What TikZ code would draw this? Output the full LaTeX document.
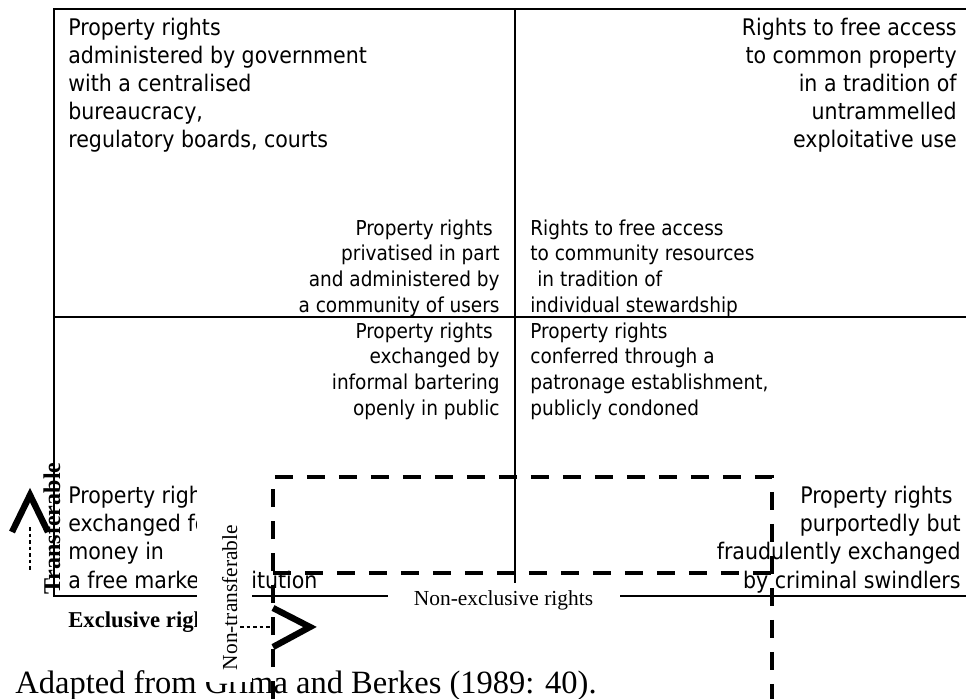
\documentclass[tikz,border=0pt]{standalone}
\usepackage{fontspec}
\setmainfont{Liberation Serif}
\newfontfamily\cellfont{DejaVu Sans Condensed}

\begin{document}
\begin{tikzpicture}[x=0.02cm, y=-0.02cm,
        big/.style={inner sep=0pt, font=\cellfont\fontsize{13}{16.05}\selectfont},
        small/.style={inner sep=0pt, font=\cellfont\fontsize{11.7}{14.6}\selectfont},
        axislabel/.style={inner sep=0pt, font=\fontsize{12.2}{14}\selectfont},
        gridline/.style={line width=1.2pt},
        zone/.style={line width=1.9pt, dash pattern=on 0.36cm off 0.28cm},
        chevron/.style={line width=3.6pt, miter limit=10},
        guide/.style={line width=0.8pt, dash pattern=on 2pt off 1.7pt}]
        \useasboundingbox (0,0) rectangle (966,699);

        % Define grid corners
        \coordinate (nw) at (54,9);
        \coordinate (ne) at (966,9);
        \coordinate (sw) at (54,596);
        \coordinate (top) at (515,9);
        \coordinate (mid) at (515,583);
        \coordinate (wl) at (54,317);
        \coordinate (el) at (966,317);

        % Draw Grid
        \draw[gridline] (ne) -- (nw) -- (sw) -- (388,596);
        \draw[gridline] (620,596) -- (966,596);
        \draw[gridline] (top) -- (mid);
        \draw[gridline] (wl) -- (el);

        % Quadrant texts (anchored on their last line)
        \node (gov) [big, anchor=base west, align=left] at (68,148)
            {Property rights\\administered by government\\with a centralised\\bureaucracy,\\regulatory boards, courts};
        \node (open) [big, anchor=base east, align=right] at (957,148)
            {Rights to free access\\to common property\\in a tradition of\hspace*{0.2cm}\\untrammelled\\exploitative use};
        \node (comm) [small, anchor=base east, align=right] at (500,312)
            {Property rights\hspace*{0.14cm}\\privatised in part\\and administered by\\a community of users};
        \node (steward) [small, anchor=base west, align=left] at (530,312)
            {Rights to free access\\to community resources\\\hspace*{0.14cm}in tradition of\\individual stewardship};
        \node (barter) [small, anchor=base east, align=right] at (500,415)
            {Property rights\hspace*{0.14cm}\\exchanged by\hspace*{0.14cm}\\informal bartering\\openly in public};
        \node (patron) [small, anchor=base west, align=left] at (530,415)
            {Property rights\\conferred through a\\patronage establishment,\\publicly condoned};
        \node (market) [big, anchor=base west, align=left] at (68,588)
            {Property rights\\exchanged for\\money in\\a free market institution};
        \node (fraud) [big, anchor=base east, align=right] at (961,588)
            {Property rights\hspace*{0.16cm}\\purportedly but\hspace*{0.12cm}\\fraudulently exchanged\\by criminal swindlers};

        % Dashed zone
        \draw[zone] (273,699) -- (273,477) -- (772,477) -- (772,699);
        \draw[zone] (273,573) -- (772,573);

        % Axis labels
        \node (excl) [axislabel, anchor=base west, font=\bfseries\fontsize{12.9}{14}\selectfont] at (68,627) {Exclusive rights};
        \node (nonexcl) [axislabel, anchor=base] at (503.5,605) {Non-exclusive rights};
        \node (src) [inner sep=0pt, anchor=base west, font=\fontsize{18.5}{22}\selectfont] at (15,693.5)
            {Adapted from Grima and Berkes (1989: 40).};

        \fill[white] (197,486) rectangle (252,682);
        \node (nontr) [axislabel, anchor=base, rotate=90] at (237,597.5) {Non-transferable};
        \node (tr) [axislabel, anchor=base, rotate=90, font=\bfseries\fontsize{13.7}{16}\selectfont] at (60,528.5) {Transferable};

        % Arrows
        \draw[chevron] (12,532) -- (30,495) -- (48,532);
        \draw[guide] (30,527) -- (30,570);
        \draw[chevron] (273,608) -- (310,627) -- (273,647);
        \draw[guide] (240,627) -- (273,627);
    \end{tikzpicture}
\end{document}
